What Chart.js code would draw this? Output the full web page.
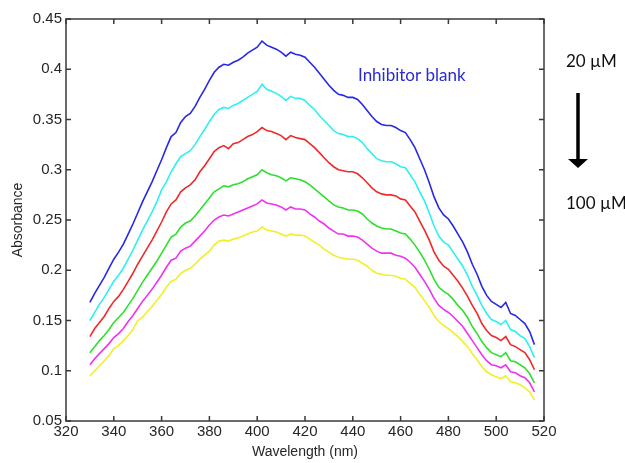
<!DOCTYPE html>
<html lang="en">
<head>
    <meta charset="UTF-8">
    <title>Absorbance spectra</title>
    <script src="https://cdn.jsdelivr.net/npm/chart.js"></script>
    <style>
        body { margin: 0; background: #fff; }
        .box { position: relative; width: 625px; height: 463px; }
    </style>
</head>
<body>
<div class="box">
    <canvas id="espectro"></canvas>
</div>
<script>
// wavelength (nm)
const wavelengths = [330,332,334,336,338,340,342,344,346,348,350,352,354,356,358,360,362,364,366,368,
    370,372,374,376,378,380,382,384,386,388,390,392,394,396,398,400,402,404,406,408,
    410,412,414,416,418,420,422,424,426,428,430,432,434,436,438,440,442,444,446,448,
    450,452,454,456,458,460,462,464,466,468,470,472,474,476,478,480,482,484,486,488,
    490,492,494,496,498,500,502,504,506,508,510,512,514,516];

// inhibitor blank (top curve)
const blank = [0.168,0.177,0.185,0.193,0.202,0.211,0.218,0.226,0.236,0.246,
    0.257,0.268,0.278,0.288,0.299,0.310,0.322,0.333,0.337,0.347,
    0.353,0.356,0.363,0.372,0.380,0.389,0.397,0.402,0.405,0.404,
    0.407,0.409,0.412,0.416,0.419,0.422,0.428,0.424,0.422,0.420,
    0.417,0.413,0.417,0.415,0.414,0.412,0.407,0.402,0.396,0.390,
    0.384,0.379,0.375,0.374,0.372,0.372,0.370,0.365,0.359,0.353,
    0.348,0.345,0.344,0.344,0.342,0.339,0.337,0.330,0.322,0.311,
    0.300,0.287,0.273,0.262,0.255,0.251,0.244,0.236,0.228,0.218,
    0.206,0.196,0.184,0.175,0.169,0.166,0.163,0.168,0.157,0.155,
    0.151,0.147,0.139,0.126];

const cyanCurve = [0.150,0.158,0.166,0.173,0.181,0.189,0.195,0.202,0.211,0.220,
    0.230,0.240,0.249,0.258,0.268,0.280,0.288,0.298,0.306,0.313,
    0.316,0.319,0.325,0.333,0.340,0.348,0.355,0.360,0.362,0.361,
    0.364,0.366,0.369,0.372,0.375,0.378,0.385,0.380,0.378,0.376,
    0.373,0.369,0.373,0.371,0.371,0.369,0.364,0.360,0.354,0.349,
    0.344,0.339,0.336,0.335,0.333,0.333,0.331,0.327,0.321,0.316,
    0.311,0.309,0.308,0.308,0.306,0.303,0.302,0.295,0.288,0.278,
    0.269,0.257,0.244,0.234,0.228,0.225,0.218,0.211,0.204,0.195,
    0.184,0.175,0.165,0.157,0.151,0.149,0.146,0.150,0.141,0.139,
    0.135,0.132,0.124,0.113];

const redCurve = [0.134,0.142,0.148,0.154,0.162,0.169,0.174,0.181,0.189,0.197,
    0.206,0.214,0.222,0.230,0.239,0.248,0.258,0.266,0.270,0.278,
    0.282,0.285,0.290,0.298,0.304,0.311,0.318,0.322,0.324,0.321,
    0.326,0.327,0.330,0.333,0.335,0.338,0.342,0.339,0.338,0.336,
    0.334,0.330,0.334,0.332,0.331,0.330,0.326,0.322,0.317,0.312,
    0.307,0.303,0.300,0.299,0.298,0.298,0.296,0.292,0.287,0.282,
    0.278,0.276,0.275,0.275,0.274,0.271,0.270,0.264,0.258,0.249,
    0.240,0.230,0.218,0.210,0.204,0.201,0.195,0.189,0.182,0.174,
    0.165,0.157,0.147,0.140,0.135,0.133,0.130,0.134,0.126,0.124,
    0.121,0.118,0.111,0.101];

const greenCurve = [0.118,0.124,0.130,0.135,0.141,0.148,0.153,0.158,0.165,0.172,
    0.180,0.188,0.195,0.202,0.209,0.217,0.225,0.233,0.236,0.243,
    0.247,0.249,0.254,0.260,0.266,0.272,0.278,0.281,0.284,0.283,
    0.285,0.286,0.288,0.291,0.293,0.295,0.300,0.297,0.295,0.294,
    0.292,0.289,0.292,0.291,0.290,0.288,0.285,0.281,0.277,0.273,
    0.269,0.265,0.263,0.262,0.260,0.260,0.259,0.256,0.251,0.247,
    0.244,0.242,0.241,0.241,0.239,0.237,0.236,0.231,0.225,0.218,
    0.210,0.201,0.191,0.183,0.179,0.176,0.171,0.165,0.160,0.153,
    0.144,0.137,0.129,0.123,0.118,0.116,0.114,0.118,0.110,0.109,
    0.106,0.103,0.097,0.088];

const magentaCurve = [0.106,0.112,0.117,0.122,0.127,0.133,0.137,0.142,0.149,0.155,
    0.162,0.169,0.175,0.181,0.188,0.195,0.203,0.210,0.212,0.219,
    0.222,0.224,0.229,0.234,0.239,0.245,0.250,0.253,0.255,0.254,
    0.256,0.258,0.260,0.262,0.264,0.266,0.270,0.267,0.266,0.265,
    0.263,0.260,0.263,0.261,0.261,0.260,0.256,0.253,0.249,0.246,
    0.242,0.239,0.236,0.236,0.234,0.234,0.233,0.230,0.226,0.222,
    0.219,0.217,0.217,0.217,0.215,0.214,0.212,0.208,0.203,0.196,
    0.189,0.181,0.172,0.165,0.161,0.158,0.154,0.149,0.144,0.137,
    0.130,0.123,0.116,0.110,0.106,0.105,0.103,0.106,0.099,0.098,
    0.095,0.093,0.088,0.079];

// 100 uM (bottom curve)
const yellowCurve = [0.095,0.100,0.105,0.110,0.115,0.122,0.125,0.130,0.135,0.141,
    0.150,0.153,0.159,0.164,0.170,0.176,0.183,0.189,0.191,0.197,
    0.200,0.202,0.206,0.211,0.215,0.219,0.225,0.229,0.230,0.229,
    0.231,0.232,0.234,0.236,0.238,0.239,0.243,0.240,0.239,0.238,
    0.236,0.234,0.236,0.235,0.235,0.234,0.231,0.228,0.225,0.221,
    0.218,0.215,0.213,0.212,0.211,0.211,0.210,0.207,0.204,0.200,
    0.197,0.196,0.195,0.195,0.194,0.192,0.191,0.187,0.183,0.176,
    0.170,0.163,0.155,0.149,0.145,0.142,0.138,0.134,0.129,0.124,
    0.117,0.111,0.104,0.099,0.096,0.094,0.092,0.095,0.089,0.088,
    0.086,0.083,0.079,0.071];

const xTicks = [320, 340, 360, 380, 400, 420, 440, 460, 480, 500, 520];
const yTicks = [0.05, 0.1, 0.15, 0.2, 0.25, 0.3, 0.35, 0.4, 0.45];

const series = [
    { nome: 'Inhibitor blank', valores: blank, cor: '#2828e6' },
    { nome: '20 uM', valores: cyanCurve, cor: '#2ef0f0' },
    { nome: '40 uM', valores: redCurve, cor: '#ee2a2a' },
    { nome: '60 uM', valores: greenCurve, cor: '#2ee02e' },
    { nome: '80 uM', valores: magentaCurve, cor: '#f032f0' },
    { nome: '100 uM', valores: yellowCurve, cor: '#f0f028' }
];

// monta os datasets a partir dos arrays
const datasets = series.map(function (s) {
    return {
        label: s.nome,
        data: wavelengths.map((w, i) => ({ x: w, y: s.valores[i] })),
        borderColor: s.cor,
        borderWidth: 1.6,
        pointRadius: 0,
        fill: false,
        tension: 0
    };
});

// caixa + ticks para dentro (estilo matlab) e anotações da direita
const caixaPlugin = {
    id: 'caixa',
    afterDraw(chart) {
        const ctx = chart.ctx;
        const a = chart.chartArea;
        const sx = chart.scales.x, sy = chart.scales.y;
        ctx.save();
        ctx.strokeStyle = '#3a3a3a';
        ctx.lineWidth = 1.5;
        ctx.strokeRect(a.left, a.top, a.right - a.left, a.bottom - a.top);
        ctx.beginPath();
        xTicks.forEach(function (v) {
            const px = sx.getPixelForValue(v);
            ctx.moveTo(px, a.bottom); ctx.lineTo(px, a.bottom - 5);
            ctx.moveTo(px, a.top); ctx.lineTo(px, a.top + 5);
        });
        yTicks.forEach(function (v) {
            const py = sy.getPixelForValue(v);
            ctx.moveTo(a.left, py); ctx.lineTo(a.left + 5, py);
            ctx.moveTo(a.right, py); ctx.lineTo(a.right - 5, py);
        });
        ctx.stroke();

        // textos
        ctx.font = '17px Lato, "Open Sans", sans-serif';
        ctx.textBaseline = 'middle';
        ctx.textAlign = 'left';
        ctx.fillStyle = '#2a2ad2';
        ctx.fillText('Inhibitor blank', 358, 76);
        ctx.fillStyle = '#111';
        ctx.fillText('20 \u00b5M', 566, 62);
        ctx.fillText('100 \u00b5M', 566, 204);

        // seta
        ctx.strokeStyle = '#000';
        ctx.lineWidth = 3.5;
        ctx.beginPath();
        ctx.moveTo(578, 93); ctx.lineTo(578, 160);
        ctx.stroke();
        ctx.fillStyle = '#000';
        ctx.beginPath();
        ctx.moveTo(568, 159); ctx.lineTo(588, 159); ctx.lineTo(578, 168);
        ctx.closePath();
        ctx.fill();
        ctx.restore();
    }
};

const fonteEixo = { family: '"Liberation Sans", Arial, sans-serif', size: 15 };

const config = {
    type: 'line',
    data: { datasets: datasets },
    options: {
        responsive: true,
        maintainAspectRatio: false,
        animation: false,
        layout: { padding: { left: 0, top: 19, right: 81, bottom: 0 } },
        plugins: {
            legend: { display: false },
            tooltip: { enabled: false }
        },
        scales: {
            x: {
                type: 'linear',
                min: 320,
                max: 520,
                afterFit: function (scale) { scale.height = 42; },
                afterBuildTicks: function (scale) { scale.ticks = xTicks.map(v => ({ value: v })); },
                grid: { display: false, drawTicks: false },
                border: { display: false },
                ticks: { font: fonteEixo, color: '#262626', padding: 2, maxRotation: 0,
                    callback: v => String(v) },
                title: { display: true, text: 'Wavelength (nm)', color: '#262626',
                    font: { family: '"Liberation Sans", Arial, sans-serif', size: 14 },
                    padding: { top: 0, bottom: 2 } }
            },
            y: {
                type: 'linear',
                min: 0.05,
                max: 0.45,
                afterFit: function (scale) { scale.width = 66; },
                afterBuildTicks: function (scale) { scale.ticks = yTicks.map(v => ({ value: v })); },
                grid: { display: false, drawTicks: false },
                border: { display: false },
                ticks: { font: fonteEixo, color: '#262626', padding: 4,
                    callback: v => String(+v.toFixed(2)) },
                title: { display: true, text: 'Absorbance', color: '#262626',
                    font: { family: '"Liberation Sans", Arial, sans-serif', size: 14 },
                    padding: { top: 10, bottom: 0 } }
            }
        }
    },
    plugins: [caixaPlugin]
};

let grafico = new Chart(document.getElementById('espectro'), config);
</script>
</body>
</html>
